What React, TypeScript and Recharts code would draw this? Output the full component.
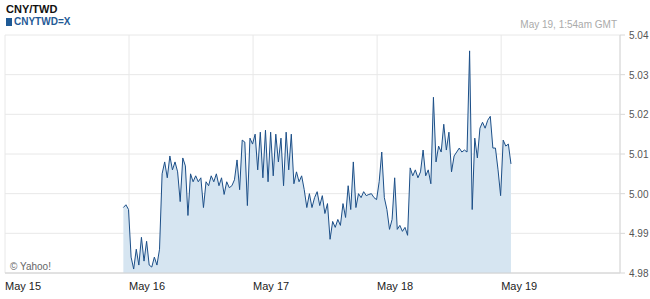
import React from "react";
import { Area, AreaChart, CartesianGrid, XAxis, YAxis } from "recharts";

// hours since May 15 00:00 (GMT)
const startHour = 22.9;
const stepHours = 0.5;

const dayTicks = [0, 24, 48, 72, 96];
const dayLabels = ["May 15", "May 16", "May 17", "May 18", "May 19"];
const rateTicks = [4.98, 4.99, 5.0, 5.01, 5.02, 5.03, 5.04];

// CNY/TWD, half-hourly
const rates = [
  4.9965, 4.9972, 4.996, 4.984, 4.981, 4.986, 4.982, 4.989, 4.983, 4.988,
  4.982, 4.9815, 4.984, 4.982, 4.986, 5.005, 5.008, 5.004, 5.0095, 5.006,
  5.008, 5.0055, 4.998, 5.009, 5.007, 4.9945, 5.005, 5.003, 5.0045, 5.003,
  5.004, 4.9965, 5.003, 5.002, 5.0045, 5.003, 5.005, 5.002, 5.004, 4.9998,
  5.003, 5.0015, 5.002, 5.0035, 5.0085, 5.001, 5.0135, 5.013, 4.997, 5.014,
  5.0125, 5.015, 5.006, 5.0155, 5.004, 5.016, 5.003, 5.0155, 5.0045, 5.015,
  5.008, 5.014, 5.002, 5.0155, 5.006, 5.015, 5.0025, 5.0055, 5.003, 5.0045,
  5.001, 4.9965, 5.0, 4.9965, 4.999, 5.0005, 4.997, 4.9995, 4.995, 4.9975,
  4.9885, 4.993, 4.9915, 4.9935, 4.992, 4.9975, 4.994, 5.002, 4.996, 5.008,
  4.9965, 5.0, 4.999, 5.0005, 4.9995, 4.9998, 5.0, 4.999, 4.9985, 5.003,
  5.0105, 4.999, 4.996, 4.991, 4.9935, 5.004, 4.991, 4.992, 4.9905, 4.9915,
  4.9895, 5.0065, 5.0045, 5.006, 5.004, 5.0055, 5.011, 5.0045, 5.006, 5.0025,
  5.0243, 5.008, 5.012, 5.0105, 5.0175, 5.011, 5.0155, 5.0055, 5.0095, 5.0105,
  5.0115, 5.0105, 5.011, 5.0105, 5.036, 4.996, 5.014, 5.009, 5.0165, 5.018,
  5.0165, 5.0185, 5.0195, 5.0115, 5.0115, 5.006, 4.9995, 5.0135, 5.012, 5.0125,
  5.0075,
];

const data = rates.map((rate, i) => ({ t: startHour + i * stepHours, rate }));

const font = '"Liberation Sans", Arial, sans-serif';

function DayTick(props: any) {
  const { x, y, payload } = props;
  const label = dayLabels[dayTicks.indexOf(payload.value)];
  return (
    <text x={x} y={y + 9} textAnchor="start" fontSize={11} fontFamily={font} fill="#222">
      {label}
    </text>
  );
}

function RateTick(props: any) {
  const { x, y, payload } = props;
  return (
    <text x={x + 2} y={y + 4} textAnchor="start" fontSize={10} fontFamily={font} fill="#555">
      {payload.value.toFixed(2)}
    </text>
  );
}

export default function App() {
  return (
    <div style={{ position: "absolute", left: 0, top: 0, width: 650, height: 299, background: "#fff", fontFamily: font }}>
      <div style={{ position: "absolute", left: 6, top: 3, fontSize: 11, fontWeight: "bold", color: "#111" }}>CNY/TWD</div>
      <div style={{ position: "absolute", left: 6, top: 16, fontSize: 10, fontWeight: "bold", color: "#1f5a96", display: "flex", alignItems: "center" }}>
        <span style={{ display: "inline-block", width: 6, height: 8, background: "#1f5a96", marginRight: 2 }} />
        CNYTWD=X
      </div>
      <div style={{ position: "absolute", right: 33, top: 19, fontSize: 10, color: "#aaa" }}>May 19, 1:54am GMT</div>
      <AreaChart width={650} height={299} data={data} margin={{ top: 35, right: 2, left: 5, bottom: 6 }}>
        <CartesianGrid stroke="#e8e8e8" ticks={undefined} />
        <XAxis
          dataKey="t"
          type="number"
          domain={[0, 119]}
          ticks={dayTicks}
          tick={<DayTick />}
          tickLine={false}
          axisLine={{ stroke: "#d0d0d0" }}
          height={20}
          allowDataOverflow
        />
        <YAxis
          orientation="right"
          domain={[4.98, 5.04]}
          ticks={rateTicks}
          tick={<RateTick />}
          tickSize={5}
          tickLine={{ stroke: "#d8d8d8" }}
          axisLine={{ stroke: "#d8d8d8" }}
          width={28}
          allowDataOverflow
        />
        <Area
          type="linear"
          dataKey="rate"
          stroke="#1c4f88"
          strokeWidth={1}
          fill="#d6e5f1"
          fillOpacity={1}
          isAnimationActive={false}
          dot={false}
          activeDot={false}
        />
      </AreaChart>
      <div style={{ position: "absolute", left: 10, top: 261, fontSize: 10, color: "#666" }}>© Yahoo!</div>
    </div>
  );
}
